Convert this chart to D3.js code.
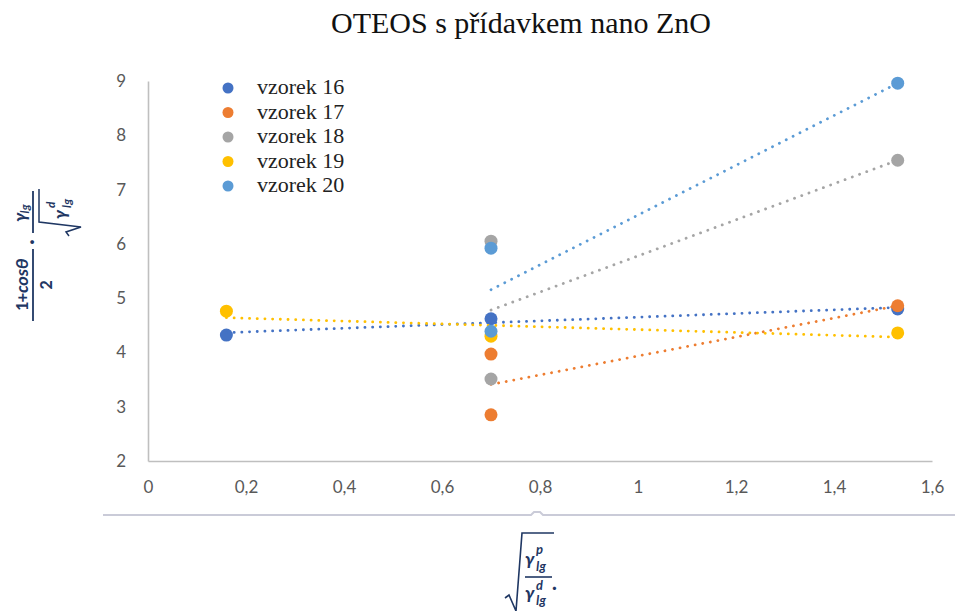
<!DOCTYPE html>
<html>
<head>
<meta charset="utf-8">
<script src="https://cdn.jsdelivr.net/npm/d3@7"></script>
<style>
  html, body { margin: 0; padding: 0; background: #fff; }
  svg { display: block; }
</style>
</head>
<body>
<div id="chart"></div>
<script>
// Series names and colours
const seriesNames = ["vzorek 16", "vzorek 17", "vzorek 18", "vzorek 19", "vzorek 20"];
const seriesColors = ["#4472C4", "#ED7D31", "#A5A5A5", "#FFC000", "#5B9BD5"];

// Measured points per sample: x = sqrt(γp/γd), y = (1+cosθ)/2 · γ/sqrt(γd)
const xs16 = [0.16, 0.70, 1.53];
const ys16 = [4.32, 4.62, 4.80];
const xs17 = [0.70, 0.70, 1.53];
const ys17 = [3.97, 2.85, 4.86];
const xs18 = [0.70, 0.70, 1.53];
const ys18 = [6.05, 3.51, 7.54];
const xs19 = [0.16, 0.70, 1.53];
const ys19 = [4.76, 4.30, 4.36];
const xs20 = [0.70, 0.70, 1.53];
const ys20 = [5.92, 4.39, 8.96];

// Axis ticks
const xTickValues = [0, 0.2, 0.4, 0.6, 0.8, 1, 1.2, 1.4, 1.6];
const xTickLabels = ["0", "0,2", "0,4", "0,6", "0,8", "1", "1,2", "1,4", "1,6"];
const yTickValues = [2, 3, 4, 5, 6, 7, 8, 9];
const yTickLabels = ["2", "3", "4", "5", "6", "7", "8", "9"];

const titleText = "OTEOS s přídavkem nano ZnO";

const series = [
  { xs: xs16, ys: ys16 },
  { xs: xs17, ys: ys17 },
  { xs: xs18, ys: ys18 },
  { xs: xs19, ys: ys19 },
  { xs: xs20, ys: ys20 }
].map((s, i) => ({
  name: seriesNames[i],
  color: seriesColors[i],
  points: s.xs.map((x, j) => ({ x, y: s.ys[j] }))
}));

const W = 955, H = 611;
const svg = d3.select("#chart").append("svg").attr("width", W).attr("height", H);

const x = d3.scaleLinear().domain([0, 1.6]).range([148, 932]);
const y = d3.scaleLinear().domain([2, 9]).range([461, 81]);

// Title
svg.append("text")
  .attr("x", 521).attr("y", 33)
  .attr("text-anchor", "middle")
  .attr("font-family", "'Liberation Serif', 'Times New Roman', serif")
  .attr("font-size", 30)
  .attr("fill", "#111")
  .text(titleText);

// Axes
const tickFont = "Lato, 'Open Sans', sans-serif";
const xAxis = svg.append("g").attr("transform", `translate(0,${y(2)})`)
  .call(d3.axisBottom(x).tickValues(xTickValues).tickSize(0).tickPadding(20)
    .tickFormat((d, i) => xTickLabels[i]));
const yAxis = svg.append("g").attr("transform", `translate(${x(0)},0)`)
  .call(d3.axisLeft(y).tickValues(yTickValues).tickSize(0).tickPadding(22)
    .tickFormat((d, i) => yTickLabels[i]));
[xAxis, yAxis].forEach(a => {
  a.select(".domain").attr("stroke", "#BFBFBF").attr("stroke-width", 1.6);
  a.selectAll("text").attr("font-family", tickFont).attr("font-size", 17).attr("fill", "#595959");
});

// Linear least-squares trendline over each series' x span
function fit(points) {
  const mx = d3.mean(points, p => p.x), my = d3.mean(points, p => p.y);
  const sxy = d3.sum(points, p => (p.x - mx) * (p.y - my));
  const sxx = d3.sum(points, p => (p.x - mx) ** 2);
  const b = sxy / sxx, a = my - b * mx;
  const [x0, x1] = d3.extent(points, p => p.x);
  return [{ x: x0, y: a + b * x0 }, { x: x1, y: a + b * x1 }];
}

const line = d3.line().x(d => x(d.x)).y(d => y(d.y));

series.forEach(s => {
  const g = svg.append("g");
  g.selectAll("circle").data(s.points).join("circle")
    .attr("cx", d => x(d.x)).attr("cy", d => y(d.y)).attr("r", 6.5)
    .attr("fill", s.color);
  g.append("path").datum(fit(s.points))
    .attr("d", line)
    .attr("fill", "none")
    .attr("stroke", s.color)
    .attr("stroke-width", 2.8)
    .attr("stroke-linecap", "round")
    .attr("stroke-dasharray", "0.1,7.6");
});

// Legend
const legend = svg.append("g");
seriesNames.forEach((name, i) => {
  const ly = 88 + i * 24.5;
  legend.append("circle").attr("cx", 228).attr("cy", ly).attr("r", 5.5).attr("fill", seriesColors[i]);
  legend.append("text").attr("x", 257).attr("y", ly + 6)
    .attr("font-family", "'Liberation Serif', 'Times New Roman', serif")
    .attr("font-size", 22).attr("fill", "#222").text(name);
});

// Separator line under the plot
svg.append("path")
  .attr("d", "M103,515 L531,515 L534,512 L540,512 L543,515 L955,515")
  .attr("fill", "none").attr("stroke", "#CACBD8").attr("stroke-width", 2);

const eqColor = "#1F3763";
const eqFont = "Calibri, Carlito, 'Open Sans', sans-serif";

// Y axis label: (1+cosθ)/2 · γlg / sqrt(γlg^d), written rotated
const yl = svg.append("g").attr("transform", "translate(33,285) rotate(-90)")
  .attr("fill", eqColor).attr("font-family", eqFont).attr("font-weight", 600);
yl.append("line").attr("x1", -36).attr("x2", 36).attr("y1", 0).attr("y2", 0)
  .attr("stroke", eqColor).attr("stroke-width", 1.8);
yl.append("text").attr("x", 0).attr("y", -5).attr("text-anchor", "middle").attr("font-size", 18)
  .html('1+<tspan font-style="italic">cosθ</tspan>');
yl.append("text").attr("x", 0).attr("y", 19).attr("text-anchor", "middle").attr("font-size", 18).text("2");
yl.append("text").attr("x", 43).attr("y", 5).attr("text-anchor", "middle").attr("font-size", 20).text("·");
yl.append("line").attr("x1", 52).attr("x2", 94).attr("y1", 0).attr("y2", 0)
  .attr("stroke", eqColor).attr("stroke-width", 1.8);
yl.append("text").attr("x", 72).attr("y", -7).attr("text-anchor", "middle").attr("font-size", 18).attr("font-style", "italic")
  .html('γ<tspan font-size="12" dy="3">lg</tspan>');
// radical in denominator
yl.append("path").attr("d", "M49,36 L53,33 L58,48 L63,6 L96,6")
  .attr("fill", "none").attr("stroke", eqColor).attr("stroke-width", 1.5);
yl.append("text").attr("x", 66).attr("y", 33).attr("font-size", 18).attr("font-style", "italic").text("γ");
yl.append("text").attr("x", 77).attr("y", 22).attr("font-size", 12).attr("font-style", "italic").text("d");
yl.append("text").attr("x", 77).attr("y", 38).attr("font-size", 12).attr("font-style", "italic").text("lg");

// X axis label: sqrt(γlg^p / γlg^d)
const xl = svg.append("g").attr("fill", eqColor).attr("font-family", eqFont).attr("font-weight", 600);
xl.append("path").attr("d", "M505,598 L509,595 L516,611 L522,533 L554,533")
  .attr("fill", "none").attr("stroke", eqColor).attr("stroke-width", 1.6);
xl.append("line").attr("x1", 525).attr("x2", 552).attr("y1", 577).attr("y2", 577)
  .attr("stroke", eqColor).attr("stroke-width", 1.6);
xl.append("text").attr("x", 525).attr("y", 565).attr("font-size", 19).attr("font-style", "italic").text("γ");
xl.append("text").attr("x", 536).attr("y", 554).attr("font-size", 13).attr("font-style", "italic").text("p");
xl.append("text").attr("x", 536).attr("y", 571).attr("font-size", 13).attr("font-style", "italic").text("lg");
xl.append("text").attr("x", 525).attr("y", 599).attr("font-size", 19).attr("font-style", "italic").text("γ");
xl.append("text").attr("x", 536).attr("y", 590).attr("font-size", 13).attr("font-style", "italic").text("d");
xl.append("text").attr("x", 536).attr("y", 605).attr("font-size", 13).attr("font-style", "italic").text("lg");
xl.append("text").attr("x", 552).attr("y", 593).attr("font-size", 18).text("·");
</script>
</body>
</html>
